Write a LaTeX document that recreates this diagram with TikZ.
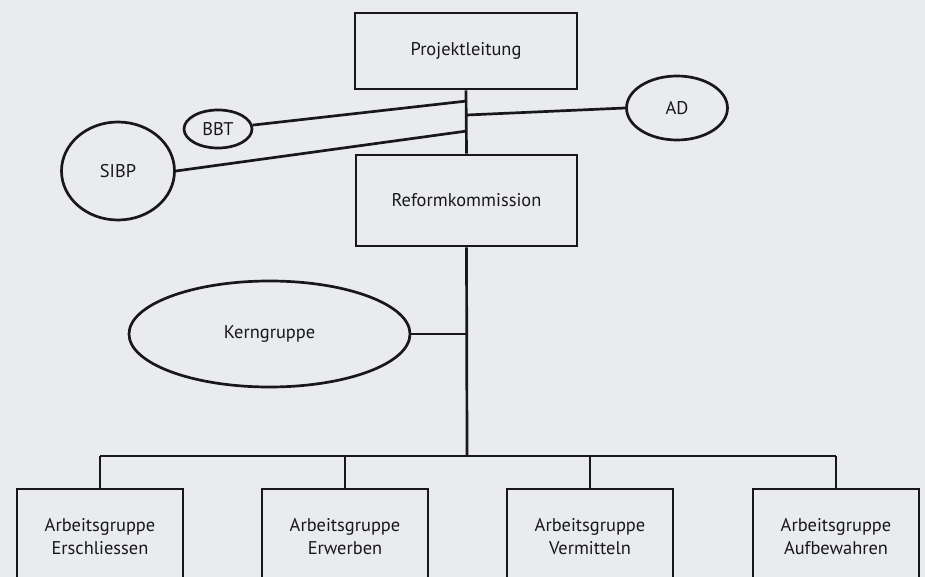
\documentclass[tikz,border=0pt]{standalone}
\usepackage{fontspec}
\setmainfont{PT Sans}
\usepackage{tikz}
\usetikzlibrary{shapes.geometric}

\definecolor{paper}{RGB}{233,235,237}
\definecolor{ink}{RGB}{24,24,26}

\tikzset{
	orgbox/.style={draw=ink, rectangle, align=center, inner sep=0pt},
	orgoval/.style={draw=ink, ellipse, inner sep=0pt},
	link/.style={draw=ink, line width=1.35pt}
}

\begin{document}
\begin{tikzpicture}[x=0.5pt,y=-0.5pt,line width=1.35pt,
	font=\fontsize{9.2}{11.5}\selectfont, text=ink]
\clip (0,0) rectangle (925,577);
\fill[paper] (0,0) rectangle (925,577);

\node[orgbox, minimum width=111pt, minimum height=38pt] (pl) at (466,51) {Projektleitung};
\node[orgbox, minimum width=110.5pt, minimum height=45.5pt] (rk) at (466.5,200.5) {Reformkommission};
\node[orgoval, minimum width=50.5pt, minimum height=32pt] (ad) at (677,108) {AD};
\node[orgoval, minimum width=34pt, minimum height=19pt] (bbt) at (218,129) {BBT};
\node[orgoval, minimum width=56.5pt, minimum height=49pt] (sibp) at (118,171) {SIBP};
\node[orgoval, minimum width=140.5pt, minimum height=53pt] (kg) at (269.5,334) {Kerngruppe};

\foreach \x/\name/\txt in {100/ag1/Erschliessen, 345/ag2/Erwerben, 590/ag3/Vermitteln, 836/ag4/Aufbewahren}
{
	\node[orgbox, minimum width=83pt, minimum height=47.5pt] (\name) at (\x,536.5) {Arbeitsgruppe\\\txt};
}

% Stammlinie
\coordinate (s1) at (467,101);
\coordinate (s2) at (467,131);
\coordinate (s3) at (467,115);
\coordinate (bus) at (467,456);
\draw[link] (pl.south) -- (rk.north);
\draw[link] (rk.south) -- (bus);
\draw[link] (bbt) -- (s1);
\draw[link] (sibp.east) -- (s2);
\draw[link] (s3) -- (ad.west);
\draw[link] (kg.east) -- (kg.east -| rk.south);

% Arbeitsgruppen
\draw[link] (ag1.north |- bus) -- (ag4.north |- bus);
\foreach \name in {ag1,ag2,ag3,ag4}
{
	\draw[link] (\name.north) -- (\name.north |- bus);
}
\end{tikzpicture}
\end{document}
